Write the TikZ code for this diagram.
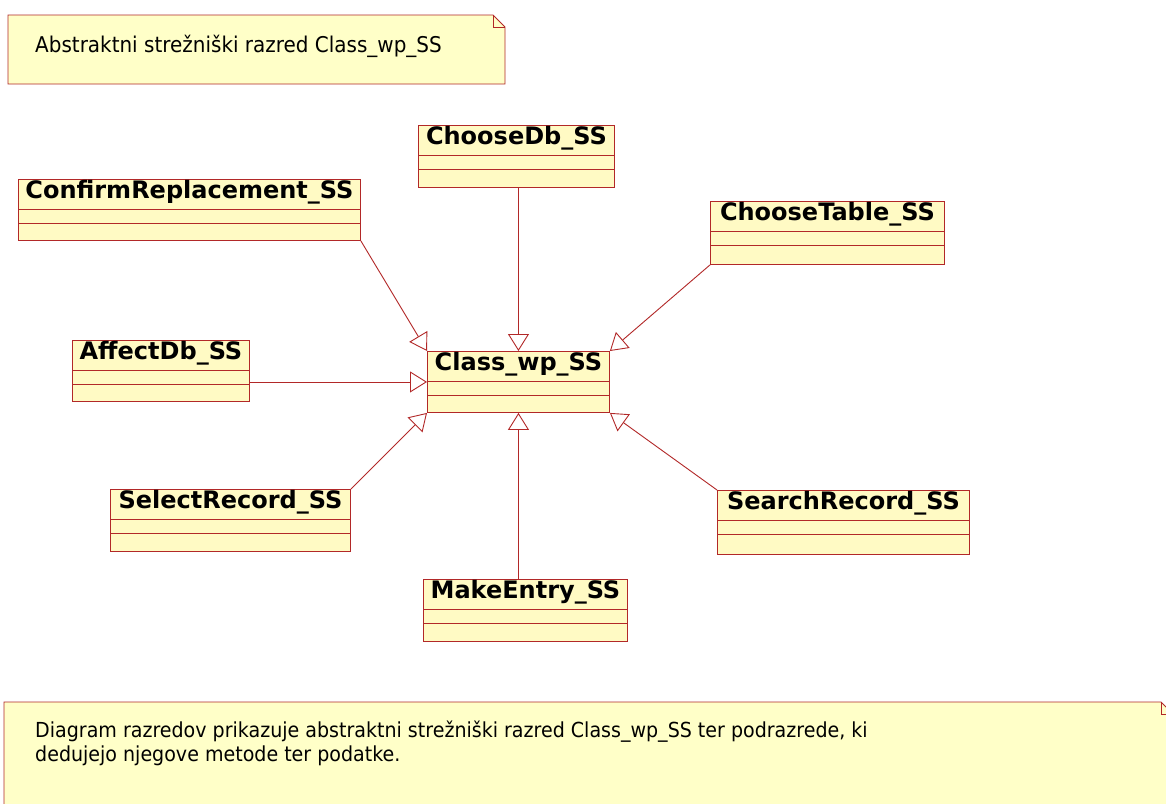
\documentclass[tikz,border=0pt]{standalone}
\usepackage{fontspec}
\setmainfont{DejaVu Sans}
\newfontfamily\notefont{DejaVu Sans}[FakeStretch=0.92]
\usepackage{xcolor}
\usetikzlibrary{arrows.meta,positioning}

\definecolor{umlred}{RGB}{178,40,40}
\definecolor{clsfill}{RGB}{255,250,196}
\definecolor{notefill}{RGB}{255,255,200}

% class box: name, x, y (top left), width, height, label
\newcommand{\umlclass}[6]{%
  \node[clsbox,minimum width=#4pt,minimum height=#5pt] (#1) at (#2,#3) {};
  \draw[umlline] ([yshift=-30pt]#1.north west) -- ([yshift=-30pt]#1.north east);
  \draw[umlline] ([yshift=-44pt]#1.north west) -- ([yshift=-44pt]#1.north east);
  \node[clsname] (#1-name) at ([yshift=-19.5pt]#1.north) {#6};
}

\begin{document}
\begin{tikzpicture}[x=1pt,y=-1pt,
        umlline/.style={draw=umlred,line width=0.9pt},
        clsbox/.style={umlline,fill=clsfill,anchor=north west,inner sep=0pt},
        clsname/.style={anchor=base,inner sep=0pt,font=\fontsize{24}{28}\selectfont\bfseries},
        notebox/.style={umlline,fill=notefill},
        notetext/.style={inner sep=0pt,font=\notefont\fontsize{20.7}{24}\selectfont},
        inherit/.style={umlline,-{Triangle[open,length=17pt,width=21pt]}}]
  \useasboundingbox[fill=white] (0,0) rectangle (1166,803);

  % notes
  \draw[notebox] (8,15) -- (493,15) -- (505,27) -- (505,84) -- (8,84) -- cycle;
  \draw[umlline] (493,15) -- (493,27) -- (505,27);
  \node[notetext,anchor=base west,font=\notefont\fontsize{21.7}{26}\selectfont] (title) at (35,52)
    {Abstraktni strežniški razred Class\_wp\_SS};

  \draw[notebox] (4,702) -- (1161,702) -- (1173,714) -- (1173,812) -- (4,812) -- cycle;
  \draw[umlline] (1161,702) -- (1161,714) -- (1173,714);
  \node[notetext,anchor=north west,align=left] (caption) at (35,721)
    {Diagram razredov prikazuje abstraktni strežniški razred Class\_wp\_SS ter podrazrede, ki\\
     dedujejo njegove metode ter podatke.};

  % classes
  \umlclass{base}{427}{351}{182}{61}{Class\_wp\_SS}
  \umlclass{choosedb}{418}{125}{196}{62}{ChooseDb\_SS}
  \umlclass{confirm}{18}{179}{342}{61}{ConfirmReplacement\_SS}
  \umlclass{choosetab}{710}{201}{234}{63}{ChooseTable\_SS}
  \umlclass{affect}{72}{340}{177}{61}{AffectDb\_SS}
  \umlclass{select}{110}{489}{240}{62}{SelectRecord\_SS}
  \umlclass{search}{717}{490}{252}{64}{SearchRecord\_SS}
  \umlclass{entry}{423}{579}{204}{62}{MakeEntry\_SS}

  % generalisations
  \draw[inherit] (choosedb.south -| base.north) -- (base.north);
  \draw[inherit] (confirm.south east) -- (base.north west);
  \draw[inherit] (choosetab.south west) -- (base.north east);
  \draw[inherit] (affect.east |- base.west) -- (base.west);
  \draw[inherit] (select.north east) -- (base.south west);
  \draw[inherit] (search.north west) -- (base.south east);
  \draw[inherit] (entry.north -| base.south) -- (base.south);
\end{tikzpicture}
\end{document}
